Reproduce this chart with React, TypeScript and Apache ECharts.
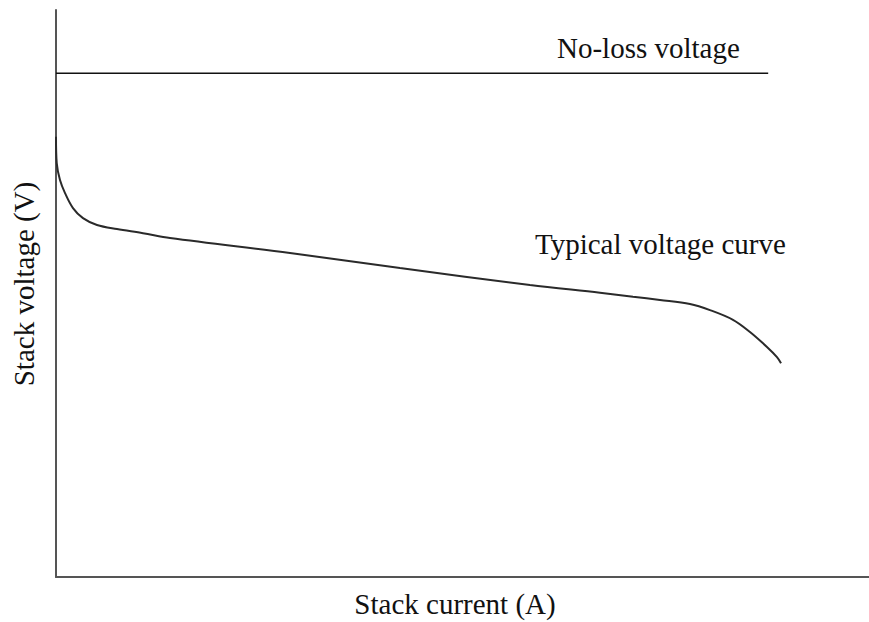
import React, { useEffect, useRef } from "react";
import * as echarts from "echarts";

// Stack current (arbitrary units, 0-100) and stack voltage (arbitrary units)
const currentValues: number[] = [
  0, 0.09, 0.49, 1.11, 2.09, 3.32, 5.04, 7.5, 10.7, 14.02, 28.78, 42.31,
  58.3, 66.91, 70.97, 74.29, 77.98, 80.44, 83.27, 85.36, 87.45, 88.68, 89.18,
];
const voltageValues: number[] = [
  1.087, 1.022, 0.98, 0.948, 0.911, 0.886, 0.869, 0.859, 0.849, 0.837, 0.8,
  0.763, 0.721, 0.702, 0.692, 0.684, 0.674, 0.659, 0.635, 0.605, 0.568, 0.543,
  0.528,
];
const noLossCurrent: number[] = [0, 87.6];
const noLossVoltage: number[] = [1.244, 1.244];

const xAxisName = "Stack current (A)";
const yAxisName = "Stack voltage (V)";
const noLossLabel = "No-loss voltage";
const curveLabel = "Typical voltage curve";

const FONT = "Liberation Serif";

export default function App() {
  const ref = useRef<HTMLDivElement>(null);

  useEffect(() => {
    if (!ref.current) return;
    const chart = echarts.init(ref.current, undefined, { renderer: "svg" });

    const curve = currentValues.map((c, i) => [c, voltageValues[i]]);
    const noLoss = noLossCurrent.map((c, i) => [c, noLossVoltage[i]]);

    const axisCommon = {
      type: "value" as const,
      axisLine: { show: true, lineStyle: { color: "#555", width: 2 } },
      axisTick: { show: false },
      axisLabel: { show: false },
      splitLine: { show: false },
    };

    const textStyle = (text: string, align: string) => ({
      text,
      fontFamily: FONT,
      fontSize: 29,
      fill: "#111",
      align,
      verticalAlign: "middle",
    });

    chart.setOption({
      animation: false,
      backgroundColor: "#fff",
      grid: { left: 56, right: 0, top: 10, bottom: 45, containLabel: false },
      xAxis: { ...axisCommon, min: 0, max: 100 },
      yAxis: { ...axisCommon, min: 0, max: 1.4 },
      series: [
        {
          name: "No-loss voltage",
          type: "line",
          data: noLoss,
          showSymbol: false,
          lineStyle: { color: "#111", width: 1.6 },
        },
        {
          name: "Typical voltage curve",
          type: "line",
          data: curve,
          showSymbol: false,
          smooth: 0.35,
          lineStyle: { color: "#2a2a2a", width: 2 },
        },
      ],
      graphic: [
        { type: "text", x: 557, y: 47.5, style: textStyle(noLossLabel, "left") },
        { type: "text", x: 535, y: 243.5, style: textStyle(curveLabel, "left") },
        { type: "text", x: 455, y: 604, style: textStyle(xAxisName, "center") },
        {
          type: "text",
          x: 24,
          y: 284,
          rotation: Math.PI / 2,
          style: textStyle(yAxisName, "center"),
        },
      ],
    });

    return () => chart.dispose();
  }, []);

  return (
    <div
      ref={ref}
      style={{ position: "fixed", left: 0, top: 0, width: 869, height: 622 }}
    />
  );
}
